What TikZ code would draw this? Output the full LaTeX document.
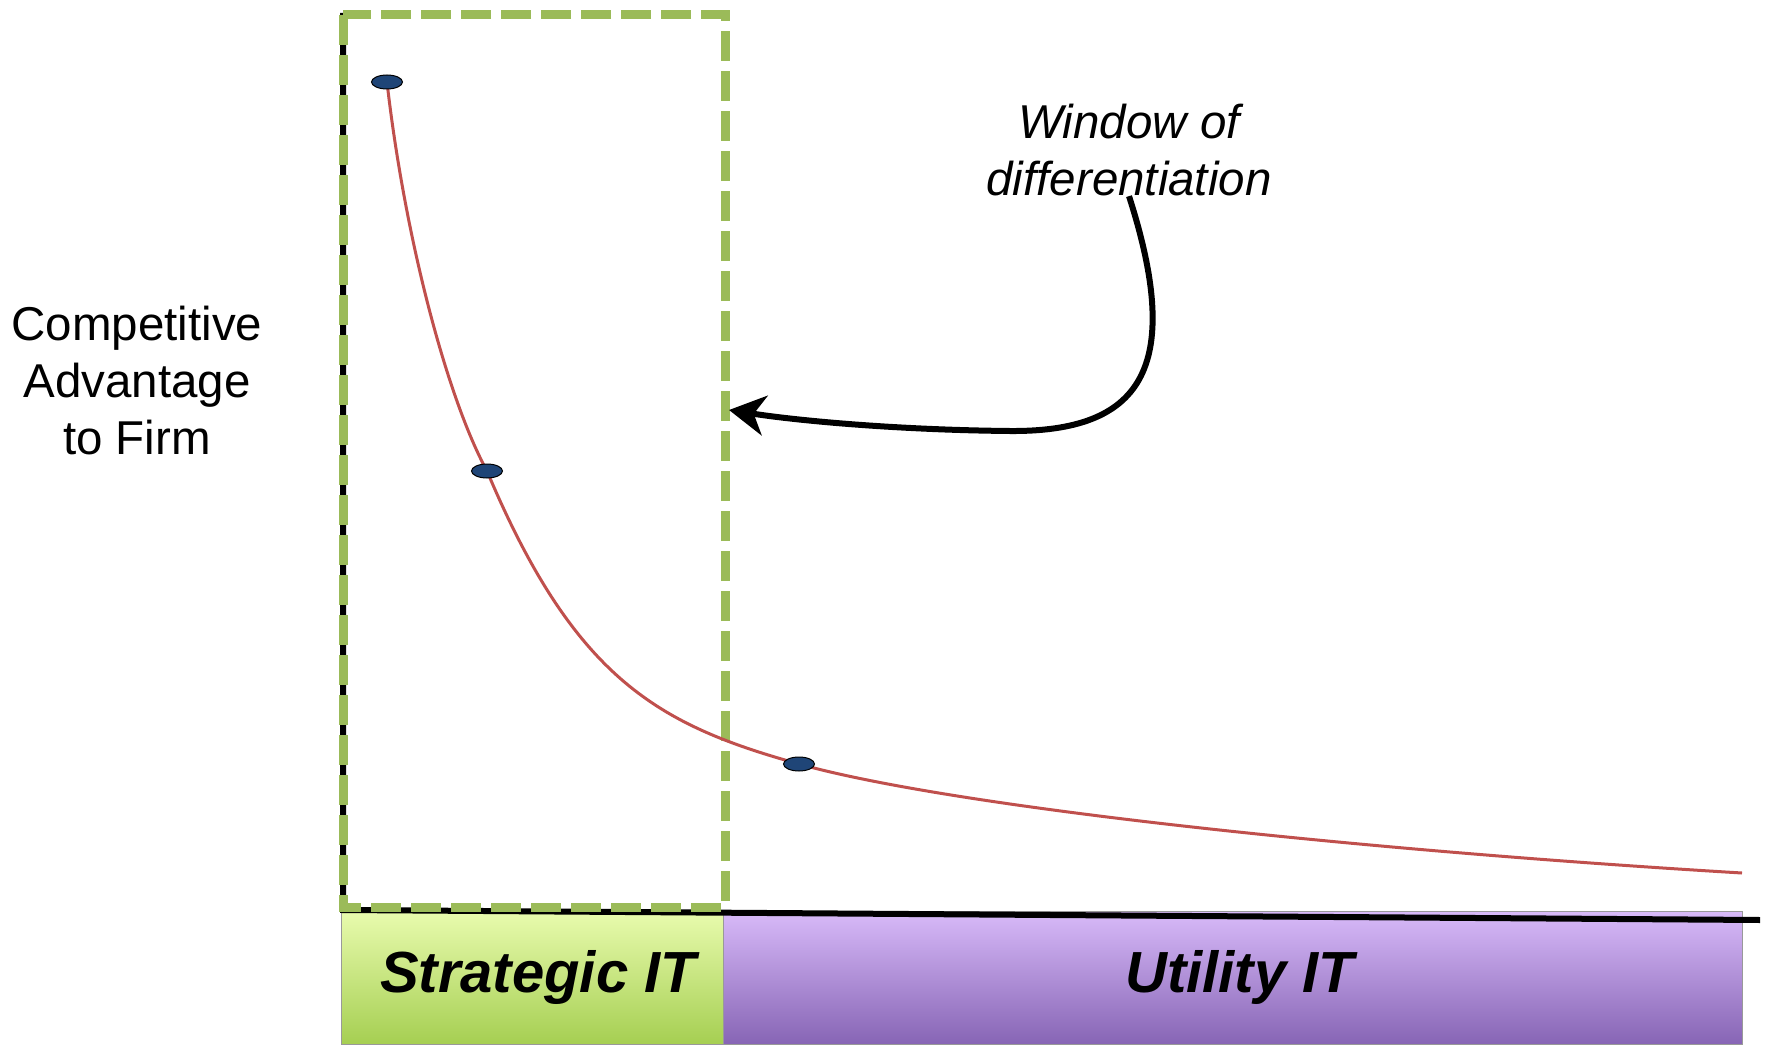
\documentclass[tikz,border=0pt]{standalone}
\usepackage{fontspec}
\setmainfont{Liberation Sans}
\usetikzlibrary{arrows.meta,shapes.geometric}
\definecolor{wingreen}{HTML}{9BBB59}
\definecolor{curvered}{HTML}{C0504D}
\definecolor{dotblue}{HTML}{1F4577}
\definecolor{strattop}{HTML}{E8FBAE}
\definecolor{stratbot}{HTML}{A6CF52}
\definecolor{utiltop}{HTML}{D8BAF9}
\definecolor{utilbot}{HTML}{8765B5}

\begin{document}
\begin{tikzpicture}[x=1pt, y=-1pt,
    lbl/.style={font=\fontsize{47.5}{57}\selectfont, align=center, inner sep=0pt},
    band/.style={draw=black!40, line width=1pt, minimum height=133, inner sep=0pt,
      font=\fontsize{58}{70}\selectfont\bfseries\itshape},
    spot/.style={ellipse, draw=black, line width=1pt, fill=dotblue,
      minimum width=31, minimum height=14, inner sep=0pt},
    axis/.style={line width=6pt},
    winbox/.style={draw=wingreen, line width=9pt, dash pattern=on 30pt off 10pt},
    pointer/.style={line width=6pt, -{Stealth[length=36pt, width=40pt, inset=11pt]}}]
  \useasboundingbox (0,0) rectangle (1767,1046);

  \node[band, minimum width=382, top color=strattop, bottom color=stratbot] (strat) at (532,977.5) {\hspace{12pt}Strategic IT};
  \node[band, minimum width=1019, top color=utiltop, bottom color=utilbot] (util) at (1232.5,977.5) {\hspace{14pt}Utility IT};

  \coordinate (origin) at (343,910);
  \draw[axis] (343,13) -- (origin) -- (1760,920);
  \draw[winbox] (343,15) rectangle (725,907);

  \coordinate (p1) at (387,82);
  \coordinate (p2) at (487,471);
  \coordinate (p3) at (799,764);
  \coordinate (tail) at (1742,873);
  \draw[curvered, line width=3pt] (p1) .. controls (405,240) and (448,400) .. (p2)
    .. controls (575,680) and (659,725) .. (p3)
    .. controls (949,806) and (1342,849) .. (tail);
  \node[spot] (high) at (p1) {};
  \node[spot] (mid) at (p2) {};
  \node[spot] (low) at (p3) {};

  \node[lbl] (adv) at (137,381) {Competitive\\Advantage\\to Firm};
  \node[lbl, font=\fontsize{47.5}{57}\selectfont\itshape] (win) at (1129,150) {Window of\\differentiation};

  \coordinate (tip) at (729,410);
  \draw[pointer] (win.south) .. controls (1185,370) and (1140,432) .. (1010,431)
    .. controls (900,430) and (800,421) .. (tip);
\end{tikzpicture}
\end{document}
